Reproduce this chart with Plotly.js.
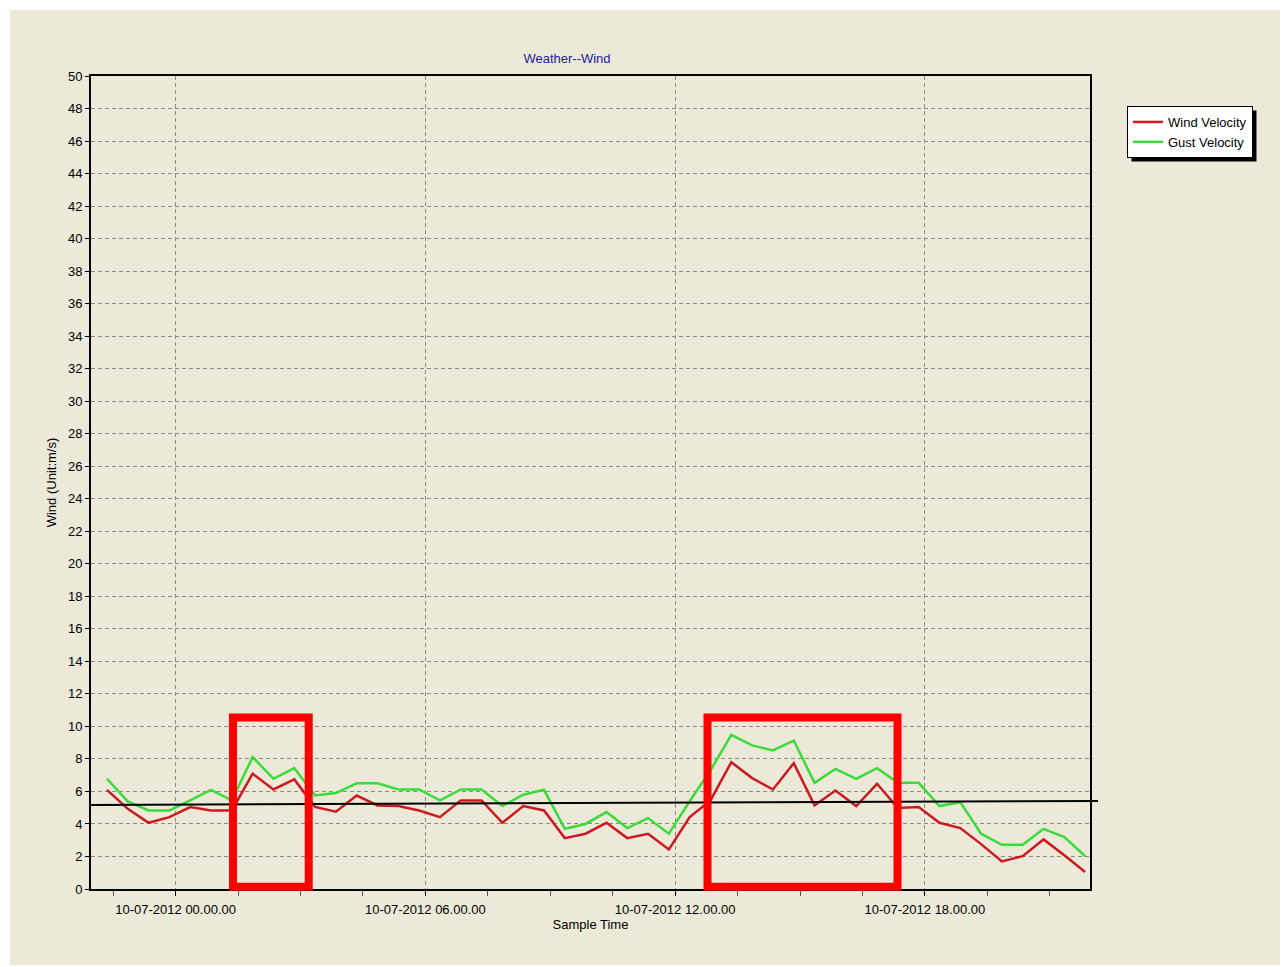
<!DOCTYPE html>
<html>
<head>
<meta charset="utf-8">
<script src="https://cdn.plot.ly/plotly-3.0.1.min.js"></script>
<style>
  html, body { margin: 0; padding: 0; background: #ffffff; }
  #chart { position: absolute; left: 10px; top: 10px; width: 1270px; height: 955px; }
</style>
</head>
<body>
<div id="chart"></div>
<script>
// ---- data ----
const sampleTimes = [
  "2012-07-09 22:21", "2012-07-09 22:51", "2012-07-09 23:21", "2012-07-09 23:51",
  "2012-07-10 00:21", "2012-07-10 00:51", "2012-07-10 01:21", "2012-07-10 01:51",
  "2012-07-10 02:21", "2012-07-10 02:51", "2012-07-10 03:21", "2012-07-10 03:51",
  "2012-07-10 04:21", "2012-07-10 04:51", "2012-07-10 05:21", "2012-07-10 05:51",
  "2012-07-10 06:21", "2012-07-10 06:51", "2012-07-10 07:21", "2012-07-10 07:51",
  "2012-07-10 08:21", "2012-07-10 08:51", "2012-07-10 09:21", "2012-07-10 09:51",
  "2012-07-10 10:21", "2012-07-10 10:51", "2012-07-10 11:21", "2012-07-10 11:51",
  "2012-07-10 12:21", "2012-07-10 12:51", "2012-07-10 13:21", "2012-07-10 13:51",
  "2012-07-10 14:21", "2012-07-10 14:51", "2012-07-10 15:21", "2012-07-10 15:51",
  "2012-07-10 16:21", "2012-07-10 16:51", "2012-07-10 17:21", "2012-07-10 17:51",
  "2012-07-10 18:21", "2012-07-10 18:51", "2012-07-10 19:21", "2012-07-10 19:51",
  "2012-07-10 20:21", "2012-07-10 20:51", "2012-07-10 21:21", "2012-07-10 21:51"
];

const windVelocity = [
  6.1, 4.93, 4.07, 4.42, 5.04, 4.83, 4.83, 7.09, 6.12, 6.74, 5.05, 4.75,
  5.75, 5.14, 5.1, 4.83, 4.42, 5.45, 5.45, 4.07, 5.1, 4.83, 3.13, 3.4,
  4.07, 3.13, 3.4, 2.43, 4.42, 5.45, 7.8, 6.82, 6.12, 7.74, 5.14, 6.06,
  5.1, 6.47, 4.98, 5.04, 4.07, 3.75, 2.76, 1.7, 2.02, 3.05, 2.07, 1.04
];

const gustVelocity = [
  6.78, 5.39, 4.83, 4.83, 5.45, 6.1, 5.45, 8.11, 6.78, 7.43, 5.75, 5.9,
  6.5, 6.5, 6.12, 6.12, 5.45, 6.12, 6.12, 5.1, 5.8, 6.1, 3.7, 4.0,
  4.73, 3.75, 4.36, 3.4, 5.4, 7.3, 9.48, 8.83, 8.52, 9.13, 6.53, 7.39,
  6.78, 7.43, 6.53, 6.53, 5.1, 5.34, 3.4, 2.72, 2.72, 3.7, 3.19, 2.02
];

const trendValues = [5.17, 5.41];   // start / end of the black trend line
const yMax = 50;

// ---- styling ----
const BG = "#ECE9D8";
const font = { family: "Liberation Sans, Arial, sans-serif", size: 13, color: "#000000" };
const legendFont = { family: "Liberation Sans, Arial, sans-serif", size: 13, color: "#000000" };

const traces = [
  {
    x: sampleTimes, y: windVelocity, name: "Wind Velocity",
    type: "scatter", mode: "lines",
    line: { color: "#CC1A22", width: 2.5 }
  },
  {
    x: sampleTimes, y: gustVelocity, name: "Gust Velocity",
    type: "scatter", mode: "lines",
    line: { color: "#3ADB3A", width: 2.5 }
  }
];

// plot-area pixel geometry helper (plot area: x 91..1090, y 76..889 in page px)
const PX0 = 91, PW = 999, PY1 = 889, PH = 813;
const px = v => (v - PX0) / PW;
const py = v => (PY1 - v) / PH;

const layout = {
  width: 1270, height: 955,
  paper_bgcolor: BG, plot_bgcolor: BG,
  font: font,
  margin: { l: 81, r: 190, t: 66, b: 76 },
  showlegend: true,
  title: {
    text: "Weather--Wind",
    font: { family: font.family, size: 13, color: "#22229A" },
    xref: "container", x: 557 / 1270, xanchor: "center",
    yref: "container", y: 1 - 48 / 955, yanchor: "middle"
  },
  xaxis: {
    type: "date",
    range: ["2012-07-09 21:58", "2012-07-10 21:58"],
    tick0: "2012-07-10 00:00",
    dtick: 6 * 3600 * 1000,
    tickformat: "%d-%m-%Y %H.%M.%S",
    ticks: "outside", ticklen: 5, tickcolor: "#000000",
    ticklabelstandoff: 2,
    minor: { dtick: 1.5 * 3600 * 1000, ticks: "outside", ticklen: 5, tickcolor: "#555555", showgrid: false },
    showgrid: true, gridcolor: "#8a8a8a", griddash: "4px,3px", gridwidth: 1,
    showline: true, linecolor: "#000000", linewidth: 2, mirror: true,
    zeroline: false,
    tickfont: font,
    title: { text: "Sample Time", font: font, standoff: 4 },
    automargin: false,
    fixedrange: true
  },
  yaxis: {
    range: [0, yMax],
    dtick: 2,
    ticks: "outside", ticklen: 4, tickcolor: "#000000",
    showgrid: true, gridcolor: "#8a8a8a", griddash: "4px,3px", gridwidth: 1,
    showline: true, linecolor: "#000000", linewidth: 2, mirror: true,
    zeroline: false,
    tickfont: font,
    title: { text: "Wind (Unit:m/s)", font: font, standoff: 8 },
    automargin: false,
    fixedrange: true
  },
  legend: {
    x: px(1127), y: py(106), xanchor: "left", yanchor: "top",
    bgcolor: "#FFFFFF", bordercolor: "#000000", borderwidth: 1,
    font: legendFont, tracegroupgap: 0, itemwidth: 30
  },
  shapes: [
    // legend shadow (re-fitted to the rendered legend box below)
    { type: "rect", xref: "paper", yref: "paper", layer: "above",
      x0: px(1131), x1: px(1251), y0: py(150), y1: py(110),
      fillcolor: "#000000", line: { width: 0 } },
    // trend line
    { type: "line", xref: "paper", yref: "paper", layer: "above",
      x0: 0, x1: px(1098), y0: trendValues[0] / yMax, y1: trendValues[1] / yMax,
      line: { color: "#000000", width: 2 } },
    // highlight boxes
    { type: "rect", xref: "paper", yref: "paper", layer: "above",
      x0: px(233), x1: px(308.7), y0: py(886.7), y1: py(717.5),
      line: { color: "#FF0000", width: 8 } },
    { type: "rect", xref: "paper", yref: "paper", layer: "above",
      x0: px(707.5), x1: px(897.5), y0: py(886.7), y1: py(717.5),
      line: { color: "#FF0000", width: 8 } }
  ]
};

Plotly.newPlot("chart", traces, layout, { displayModeBar: false, staticPlot: true }).then(gd => {
  const bg = gd.querySelector(".legend rect.bg");
  if (!bg) return;
  const r = bg.getBoundingClientRect();
  const off = 4;
  return Plotly.relayout(gd, {
    "shapes[0].x0": px(r.left + off),
    "shapes[0].x1": px(r.right + off),
    "shapes[0].y0": py(r.bottom + off),
    "shapes[0].y1": py(r.top + off)
  });
});
</script>
</body>
</html>
